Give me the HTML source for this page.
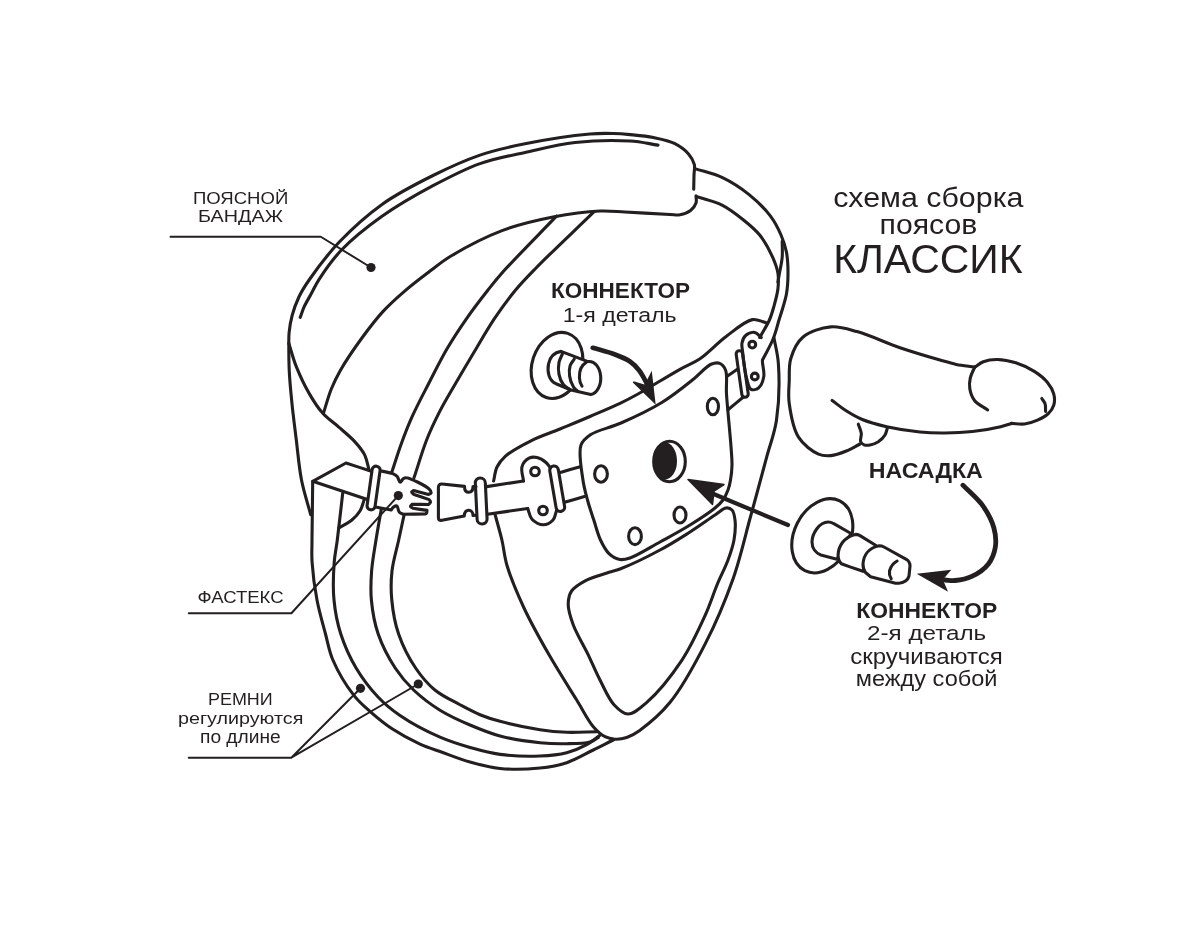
<!DOCTYPE html>
<html><head><meta charset="utf-8"><style>
html,body{margin:0;padding:0;background:#fff;width:1200px;height:941px;overflow:hidden}
svg{display:block;will-change:transform}
text{font-family:"Liberation Sans",sans-serif;fill:#231f20}
</style></head><body>
<svg width="1200" height="941" viewBox="0 0 1200 941">
<rect width="1200" height="941" fill="#fff"/>
<g fill="none" stroke="#231f20" stroke-width="3.1" stroke-linecap="round" stroke-linejoin="round">
<path d="M310.7,514.7 C307.6,503.1 303.9,492.1 301.5,480.0 C299.0,467.2 297.9,453.0 296.3,440.0 C294.8,427.6 293.2,415.5 292.0,403.8 C290.9,392.8 289.8,382.2 289.3,371.9 C288.8,362.3 288.8,351.2 288.8,344.0 C288.8,339.4 288.7,336.8 289.1,332.7 C289.6,327.6 290.6,321.4 292.1,315.7 C293.7,309.5 296.1,303.0 298.9,297.0 C301.7,291.1 304.5,286.6 309.1,280.0 C316.3,269.6 327.9,254.0 339.5,241.8 C352.0,228.7 366.6,215.4 382.0,204.4 C397.7,193.2 416.1,183.9 433.0,175.5 C448.8,167.6 464.3,160.5 480.0,155.1 C495.0,150.0 508.5,147.1 525.0,143.8 C544.6,139.8 573.7,135.4 590.0,134.0 C599.7,133.2 606.2,133.3 613.3,133.5 C619.3,133.6 624.0,134.0 630.0,134.6 C637.2,135.3 645.9,136.0 653.4,137.5 C660.6,139.0 668.3,140.4 674.4,143.4 C679.8,146.1 685.1,150.0 688.5,153.9 C691.3,157.1 693.4,160.8 694.3,164.4 C695.1,167.8 694.1,171.2 694.0,175.0 C693.9,179.4 693.8,184.5 693.7,189.3" />
<path d="M300.2,317.4 C301.5,314.0 302.4,310.7 304.0,307.2 C305.8,303.1 308.4,298.9 310.8,294.5 C313.4,289.7 315.4,285.0 319.1,279.3 C324.5,271.0 332.1,259.8 341.2,250.3 C352.2,238.8 367.2,226.8 382.0,216.3 C397.7,205.2 416.1,194.7 433.0,185.7 C448.8,177.3 464.2,169.2 480.0,163.6 C494.9,158.3 509.6,155.9 525.0,152.5 C541.2,148.9 557.9,144.4 575.0,142.5 C592.8,140.5 614.8,140.1 630.0,141.0 C640.9,141.6 648.7,143.7 658.0,145.1" />
<path d="M696.0,195.7 C696.0,198.2 696.8,200.7 696.0,203.1 C695.1,205.7 693.1,208.7 690.6,210.6 C687.9,212.7 683.5,214.2 680.0,214.8 C676.7,215.4 674.5,214.7 670.0,214.5 C660.4,214.1 637.8,212.6 625.0,212.0 C615.5,211.5 609.6,210.6 600.0,211.0 C586.8,211.6 568.9,213.9 553.0,217.0 C536.2,220.3 518.7,224.3 502.0,230.6 C484.7,237.2 464.1,248.1 451.0,256.0 C442.2,261.3 437.3,265.6 430.0,271.1 C421.8,277.3 412.4,284.4 404.4,291.3 C396.8,297.8 389.9,304.0 383.1,311.4 C375.7,319.4 368.8,328.6 361.9,338.0 C354.6,348.0 346.0,360.6 340.6,370.0 C336.6,377.0 334.1,382.2 331.3,389.0 C328.3,396.5 326.0,405.2 323.4,413.3" />
<path d="M288.8,343.2 C291.3,351.0 293.1,358.7 296.3,366.6 C299.8,375.3 304.3,385.0 309.0,393.1 C313.2,400.5 317.6,407.5 322.8,413.3 C327.6,418.7 333.6,422.5 338.8,427.1 C343.9,431.6 349.4,435.9 353.8,440.6 C357.9,445.0 361.8,449.4 364.4,454.4 C366.9,459.3 367.6,465.1 369.2,470.4" />
<path d="M364.4,499.0 C363.0,502.9 362.2,507.3 360.1,510.8 C358.0,514.4 355.0,517.5 351.6,520.3 C348.0,523.3 343.1,525.3 338.9,527.8" />
<path d="M371.3,471.3 C362.9,468.5 354.4,465.8 346.0,463.0 C334.9,469.1 323.8,475.2 312.7,481.3 C330.7,487.3 348.7,493.3 366.7,499.3" />
<path d="M556.5,216.2 C538.3,235.1 514.1,259.4 502.0,273.0 C495.6,280.2 493.1,283.5 488.0,290.0 C481.3,298.5 472.7,309.7 465.7,319.8 C458.9,329.6 452.5,339.4 446.6,349.5 C440.8,359.5 436.0,369.3 430.5,380.0 C424.5,391.8 417.0,405.7 411.9,417.2 C407.6,426.7 404.6,434.7 401.3,443.8 C397.9,453.1 394.9,462.9 391.7,472.5" />
<path d="M593.9,211.9 C574.6,230.6 550.2,253.4 536.0,268.0 C527.3,276.9 522.2,282.0 515.6,290.0 C508.4,298.7 501.3,308.5 494.4,318.7 C487.1,329.7 479.6,342.9 473.1,353.8 C467.5,363.2 462.9,370.8 457.6,380.0 C451.8,390.1 444.8,401.5 439.5,411.9 C434.7,421.3 430.8,429.4 426.8,439.5 C422.2,451.1 418.3,465.0 414.0,477.8" />
<path d="M312.7,481.3 C312.5,500.9 312.1,525.0 312.0,540.0 C312.0,549.3 311.5,554.1 312.1,562.5 C312.8,573.4 314.7,587.9 317.0,600.0 C319.2,611.7 322.7,623.4 325.5,634.0 C328.0,643.3 329.0,650.9 332.9,660.0 C337.7,671.2 346.7,686.2 353.9,695.4 C359.2,702.3 364.2,706.3 370.2,711.6 C376.8,717.4 384.1,723.5 392.1,728.8 C400.6,734.4 411.3,740.1 420.0,744.1 C427.1,747.3 432.6,748.9 440.0,751.5 C449.0,754.7 459.9,759.2 470.0,762.0 C479.9,764.8 489.2,767.4 500.0,768.5 C512.3,769.7 528.1,769.2 540.0,768.0 C549.8,767.0 558.0,765.6 566.7,762.7 C575.8,759.7 585.1,754.0 593.3,750.0 C600.5,746.5 606.6,743.3 613.3,740.0" />
<path d="M342.7,493.3 C340.9,508.9 338.9,527.3 337.3,540.0 C336.2,548.9 334.8,554.0 334.2,562.5 C333.4,573.4 332.8,587.9 334.0,600.0 C335.1,611.7 337.2,622.9 340.8,634.0 C344.5,645.5 349.8,657.4 356.1,668.0 C362.3,678.4 370.2,688.8 378.0,697.0 C384.9,704.3 391.2,709.5 400.0,715.5 C411.0,723.0 427.4,731.7 440.0,737.2 C450.5,741.8 459.9,744.6 470.0,747.5 C479.9,750.3 489.2,753.0 500.0,754.4 C512.3,756.0 528.0,756.5 540.0,756.0 C549.8,755.6 558.6,754.8 566.7,752.7 C574.0,750.8 580.9,747.9 586.7,744.7 C591.8,741.9 595.6,738.4 600.0,735.3" />
<path d="M381.3,509.3 C379.5,519.5 377.6,529.7 376.0,540.0 C374.4,550.3 372.4,560.8 371.6,571.0 C370.9,580.8 370.4,590.0 371.4,600.0 C372.4,610.9 374.4,622.9 378.2,634.0 C382.2,645.6 388.8,658.2 395.2,668.0 C400.8,676.5 406.5,683.2 413.6,690.0 C421.3,697.3 430.6,704.4 440.0,710.2 C449.4,716.0 459.9,720.7 470.0,725.0 C479.9,729.2 489.1,733.1 500.0,736.0 C512.2,739.2 528.0,741.5 540.0,742.7 C549.8,743.7 558.1,743.9 566.7,743.7 C574.7,743.6 584.3,743.7 590.0,742.0 C593.6,740.9 595.5,739.0 598.3,737.5" />
<path d="M404.0,515.3 C402.2,523.5 400.6,531.3 398.7,540.0 C396.6,549.7 393.1,560.8 392.0,571.0 C390.9,580.8 390.8,590.0 391.8,600.0 C392.8,610.9 394.8,622.9 398.6,634.0 C402.6,645.6 409.0,658.3 415.6,668.0 C421.4,676.6 427.5,683.9 434.9,690.0 C442.2,696.0 451.6,700.2 459.5,704.5 C466.6,708.3 473.1,711.9 480.0,714.7 C486.6,717.4 492.1,719.2 500.0,721.3 C511.0,724.3 528.0,727.9 540.0,729.7 C549.8,731.2 557.5,731.9 566.7,732.3 C576.4,732.7 586.7,731.9 596.7,731.7" />
<path d="M694.9,168.6 C704.1,171.6 713.6,173.4 722.5,177.6 C731.7,182.0 741.1,188.1 749.1,194.6 C756.9,200.9 764.8,208.6 770.3,215.9 C775.0,222.1 778.3,228.7 781.0,235.0 C783.5,240.7 785.2,245.9 786.4,251.9 C787.7,258.5 788.0,266.0 788.0,273.1 C788.0,280.2 787.7,287.0 786.4,294.3 C784.9,302.5 781.4,312.1 779.0,320.0 C777.0,326.8 775.7,332.6 773.1,339.0 C770.3,345.9 766.0,353.0 762.5,360.0" />
<path d="M697.0,196.8 C705.5,199.6 714.6,201.3 722.5,205.3 C730.2,209.2 737.4,215.0 743.8,220.2 C749.7,224.9 755.0,229.2 759.7,235.0 C764.8,241.3 769.5,250.3 772.6,257.2 C775.1,262.8 777.0,267.7 777.9,273.1 C778.7,278.3 778.5,283.6 777.9,289.0 C777.2,294.9 775.2,301.6 773.7,307.1 C772.4,311.8 771.4,315.5 769.4,320.0 C767.0,325.5 762.9,331.7 759.7,337.5" />
<path d="M782.2,241.2 C782.2,246.5 782.6,251.9 782.2,257.2 C781.8,262.5 780.3,268.5 779.5,273.0 C778.9,276.4 778.4,279.0 777.9,282.0" />
<path d="M495.2,515.0 C497.4,523.3 499.9,531.6 501.9,540.0 C503.9,548.4 504.2,556.1 507.0,565.5 C510.7,578.0 517.3,593.6 524.0,608.0 C531.3,623.6 540.6,640.1 549.5,655.6 C558.2,670.8 568.7,687.1 576.7,700.0 C582.9,710.0 587.7,720.2 593.3,726.7 C597.2,731.2 601.0,734.6 605.0,736.7 C608.3,738.4 611.5,739.0 615.0,739.2 C618.7,739.4 622.8,738.8 626.7,737.5 C631.1,736.0 634.7,734.0 639.7,730.4 C648.0,724.4 660.4,714.2 670.1,702.3 C682.5,687.0 694.8,664.3 705.2,643.9 C715.9,623.0 725.6,599.8 733.2,578.4 C740.2,558.6 745.6,534.4 749.6,520.0 C751.9,511.6 752.9,507.9 755.1,500.0 C758.2,488.5 762.9,471.1 766.6,457.4 C770.0,444.5 774.5,433.9 776.5,420.0 C779.0,403.3 779.4,378.9 778.4,363.8 C777.7,353.5 775.5,346.6 774.0,338.0" />
<path d="M726.0,508.0 C728.2,507.7 730.5,508.5 732.0,510.0 C733.9,511.9 734.5,516.0 735.0,520.0 C735.7,525.5 735.1,533.4 734.0,540.0 C732.8,546.7 730.6,553.0 728.0,560.0 C725.1,568.0 720.6,576.2 717.0,585.0 C713.1,594.5 710.2,604.1 705.3,615.0 C699.1,628.7 691.3,646.0 681.8,660.3 C671.9,675.1 657.4,693.1 646.8,702.3 C640.1,708.1 633.8,714.1 628.0,714.0 C623.0,713.9 618.2,709.2 614.0,704.7 C608.5,698.8 604.3,688.3 600.0,680.0 C595.8,671.9 592.7,664.2 588.6,655.6 C583.9,645.9 576.8,634.3 573.3,625.0 C570.6,617.7 568.2,610.7 568.2,604.6 C568.2,599.6 569.0,594.8 571.6,591.0 C574.4,586.8 579.8,583.7 585.2,580.8 C591.8,577.2 602.6,574.4 609.0,572.3 C613.3,570.9 615.3,570.8 620.0,569.0 C629.3,565.4 647.8,556.6 660.0,550.0 C670.9,544.2 680.5,538.0 690.0,532.0 C698.8,526.4 708.3,519.4 715.0,515.0 C719.4,512.1 722.8,508.4 726.0,508.0 Z" />
<path d="M581.0,445.0 C582.8,440.1 585.9,437.9 590.4,434.8 C597.3,430.1 610.2,427.8 621.0,423.0 C633.8,417.4 649.3,410.2 661.8,402.5 C673.5,395.3 685.1,385.8 694.0,378.7 C700.7,373.4 706.0,366.4 711.0,364.3 C714.2,363.0 717.3,362.4 719.7,363.4 C722.2,364.4 724.3,366.9 725.6,370.2 C727.7,375.5 725.9,384.5 726.5,394.0 C727.4,408.3 730.2,434.8 731.1,447.8 C731.6,455.1 732.1,459.5 732.0,465.0 C731.9,470.2 731.3,475.5 730.5,480.0 C729.9,483.7 729.2,486.7 728.0,490.0 C726.7,493.4 725.2,497.0 723.0,500.0 C720.8,503.0 718.6,505.0 715.0,508.0 C709.1,512.9 698.8,519.5 690.0,525.0 C680.6,530.9 670.0,536.5 660.0,542.0 C650.0,547.5 637.5,555.5 630.0,558.0 C625.9,559.3 623.3,560.1 620.0,559.5 C616.3,558.9 612.1,556.5 609.0,553.6 C605.5,550.3 602.9,545.1 600.5,540.0 C597.7,534.1 596.0,526.7 593.8,520.0 C591.6,513.3 589.3,506.8 587.5,500.0 C585.6,493.1 583.8,486.9 582.8,479.0 C581.4,469.1 578.2,452.7 581.0,445.0 Z" />
<path d="M493.6,481.0 C494.7,476.3 495.0,471.2 497.0,467.0 C499.0,462.9 501.5,459.7 505.5,456.1 C511.4,450.9 522.0,445.3 531.0,440.8 C540.2,436.2 550.3,433.0 560.0,429.0 C569.9,424.9 580.0,420.8 590.0,416.5 C600.0,412.2 611.3,407.5 620.0,403.4 C626.8,400.1 630.8,398.0 638.0,394.0 C649.1,387.8 668.5,375.7 680.0,369.3 C687.8,364.9 693.2,363.3 700.0,358.7 C708.3,353.1 716.7,343.6 725.5,337.0 C734.1,330.6 744.6,321.0 752.3,319.6 C757.3,318.7 761.2,321.6 765.7,322.6" />
<rect x="-4" y="-22" width="8" height="44" rx="4" transform="translate(373.6,488) rotate(8)"/>
<path d="M381.2,471.0 C385.0,471.9 389.8,472.4 392.7,473.6 C394.6,474.4 396.0,475.2 397.2,476.6 C398.5,478.1 399.1,482.2 400.2,482.3 C401.1,482.4 402.1,479.6 403.2,478.8 C404.1,478.2 404.7,477.6 406.1,477.7 C410.2,477.9 425.9,485.8 429.2,489.2 C430.6,490.6 431.3,492.3 431.0,493.2 C430.7,493.9 429.3,494.0 428.5,494.4 C423.5,493.1 418.6,491.8 413.6,490.5 C413.0,491.0 411.7,491.4 411.7,492.0 C411.6,492.7 413.2,493.7 414.0,494.5 C419.1,496.2 424.1,497.9 429.2,499.6 C429.6,500.4 430.6,501.2 430.5,502.0 C430.4,502.9 429.2,503.7 428.5,504.5 C423.0,504.4 417.5,504.4 412.0,504.3 C411.5,505.0 410.4,505.9 410.5,506.5 C410.6,507.2 412.2,507.7 413.0,508.3 C417.7,509.0 422.3,509.7 427.0,510.4 C426.8,511.3 426.9,512.6 426.5,513.2 C426.3,513.6 425.8,513.7 425.5,514.0 C418.1,514.1 410.6,514.1 403.2,514.2 C401.9,513.6 400.4,513.4 399.4,512.3 C398.1,510.9 398.1,506.6 396.8,506.0 C395.9,505.6 394.4,506.5 393.5,507.1 C392.5,507.8 392.0,509.0 391.2,510.0 C386.0,509.0 380.7,508.0 375.5,507.0" />
<circle cx="398.3" cy="495.6" r="4.6" fill="#231f20" stroke="none"/>
<path d="M476,486.6 L473,486.6 C473,490.5 471,492.3 468.8,492.3 C466.5,492.3 464.5,490.5 464.5,486.4 L442,484 Q438.4,483.8 438.4,487.5 L438.4,517.5 Q438.4,521 442,520.3 L464.2,516 C464.5,512.3 466.5,510.3 468.8,510.3 C471,510.3 473,512.3 473,515.5 L476,515.3"/>
<rect x="-5" y="-23" width="10" height="46" rx="5" transform="translate(481.2,501) rotate(-2.8)"/>
<path d="M486.7,486.6 C499.0,484.7 511.2,482.9 523.5,481.0" />
<path d="M487.4,514.2 C500.8,512.3 514.3,510.4 527.7,508.5" />
<path d="M523.5,481.0 C523.0,476.2 520.8,470.7 522.0,466.7 C523.0,463.2 526.2,459.7 529.0,458.2 C531.4,457.0 534.3,456.9 537.0,457.5 C540.0,458.1 543.7,460.5 546.0,462.5 C547.9,464.1 548.9,466.2 550.4,468.0" />
<path d="M527.7,508.5 C529.1,512.1 529.5,516.5 532.0,519.2 C534.6,522.0 539.7,524.8 543.3,524.8 C546.7,524.8 550.8,522.4 553.0,520.0 C555.1,517.7 555.3,513.8 556.5,510.7" />
<circle cx="535" cy="471.5" r="4.3"/><circle cx="543" cy="510.5" r="4.3"/>
<rect x="-4.3" y="-23" width="8.6" height="46" rx="4.3" transform="translate(557.2,488.7) rotate(-9.7)"/>
<path d="M560.3,472.4 C566.9,470.5 573.6,468.6 580.2,466.7" />
<path d="M564.6,502.2 C571.2,500.3 577.8,498.4 584.4,496.5" />
<path d="M761.2,337.5 C759.1,335.8 757.2,333.0 754.8,332.5 C752.2,332.0 748.0,333.4 745.9,335.2 C743.8,336.9 742.5,340.3 742.0,343.0 C741.5,345.6 742.1,347.5 742.5,351.0 C743.2,357.7 745.0,373.1 747.0,380.0 C748.2,384.1 748.8,388.1 751.0,389.3 C752.9,390.3 756.5,389.5 758.5,388.0 C761.1,386.0 763.1,380.6 763.8,376.5 C764.5,372.2 762.6,365.3 762.5,362.5 C762.4,361.3 762.5,360.8 762.5,360.0" />
<circle cx="752.3" cy="344.6" r="3.4"/><circle cx="754.8" cy="376.5" r="3.4"/>
<rect x="-3.2" y="-23.5" width="6.4" height="47" rx="3.2" transform="translate(742.2,374) rotate(-8)"/>
<path d="M726.8,376.5 C730.2,374.2 733.6,371.8 737.0,369.5" />
<path d="M728.0,409.7 C733.1,405.5 738.3,401.2 743.4,397.0" />
<ellipse cx="712.9" cy="406.5" rx="5.6" ry="8.2"/>
<ellipse cx="601" cy="474" rx="6.4" ry="8.2"/>
<ellipse cx="635" cy="536.2" rx="6.4" ry="8.4"/>
<ellipse cx="680" cy="515" rx="6" ry="8"/>
<ellipse cx="669.5" cy="461.5" rx="15.8" ry="20.2"/>
<ellipse cx="665" cy="461" rx="12" ry="18.5" fill="#231f20" stroke="none"/>
<path d="M713.0,493.8 C738.0,504.2 763.0,514.6 788.0,525.0" stroke-width="4.2"/>
<path d="M688,479.5 L724,484.5 L714,491 L712.5,504.5 Z" fill="#231f20" stroke="#231f20" stroke-width="1.5"/>
<path d="M170.5,236.75 L320.75,236.75 L371,267.5" stroke-width="2"/>
<circle cx="371" cy="267.5" r="4.6" fill="#231f20" stroke="none"/>
<path d="M188.75,613.25 L291.4,613.25 L398.3,495.6" stroke-width="2"/>
<path d="M188.75,757.7 L291.3,757.7 L360.5,688.3 M291.3,757.7 L418.3,684" stroke-width="2"/>
<circle cx="360.5" cy="688.3" r="4.6" fill="#231f20" stroke="none"/><circle cx="418.3" cy="684" r="4.6" fill="#231f20" stroke="none"/>
<ellipse cx="557" cy="365.4" rx="24.8" ry="33.8" transform="rotate(18.5 557 365.4)" fill="#fff"/>
<path d="M561,351.4 L588,361.6 A11.2,16.4 0 0 1 590.8,394.6 L571,390 L556,383.7 C549,380.5 547,372 548.5,364 C550,357 554,352.5 561,351.4 Z" fill="#fff"/>
<path d="M562.4,353.9 C561.3,356.7 559.6,359.3 559.0,362.4 C558.3,366.0 558.2,370.6 559.0,374.3 C559.7,377.9 561.3,381.9 563.3,384.5 C565.1,386.8 567.8,387.9 570.0,389.6" />
<path d="M574.3,359.0 C572.9,361.3 570.9,363.2 570.1,365.8 C569.2,368.8 569.1,372.6 569.6,376.0 C570.1,379.7 571.8,384.3 573.5,387.0 C574.8,389.0 576.5,390.0 578.0,391.5" />
<path d="M586.2,362.4 C581,365.5 579.2,372 579.4,377.7 C579.6,381.5 580.5,384 582,386.2"/>
<path d="M592.7,347.8 C600.1,350.0 608.4,352.0 615.0,354.5 C620.6,356.6 625.8,358.6 630.0,361.5 C633.8,364.1 636.7,367.2 639.4,370.7 C642.2,374.3 644.9,379.8 646.5,383.0 C647.5,385.0 647.8,386.3 648.5,388.0" stroke-width="4.7"/>
<path d="M654.7,402.7 L633.3,382 L645,385.5 L651.3,373.3 Z" fill="#231f20" stroke="#231f20" stroke-width="1.5" stroke-linejoin="miter"/>
<path d="M860.1,444.0 C855.5,446.3 851.1,449.1 846.3,451.0 C841.4,453.0 835.7,455.2 830.8,455.6 C826.5,456.0 822.8,456.0 818.5,454.1 C812.2,451.4 803.3,444.7 798.5,437.1 C792.9,428.3 790.6,413.3 789.2,403.2 C788.1,395.3 788.9,388.9 789.2,381.6 C789.5,374.0 788.6,365.8 790.8,358.5 C793.1,350.9 796.9,342.2 803.1,337.0 C809.8,331.3 821.6,327.7 830.8,326.9 C839.6,326.1 847.3,328.9 857.0,331.6 C869.7,335.1 885.9,342.9 900.0,347.7 C913.5,352.3 929.6,357.0 940.0,360.0 C946.6,361.9 950.7,363.2 956.3,364.4 C962.2,365.6 968.6,366.2 974.7,367.1" />
<path d="M974.7,367.1 C977.6,365.3 979.9,363.0 983.3,361.7 C987.3,360.2 992.4,359.4 997.4,359.5 C1003.1,359.6 1009.8,360.9 1015.8,362.8 C1022.1,364.8 1028.9,367.9 1034.3,371.4 C1039.2,374.5 1044.0,378.2 1047.3,382.3 C1050.3,385.9 1052.8,390.2 1053.8,394.2 C1054.7,397.8 1054.8,401.7 1053.8,405.0 C1052.9,408.2 1050.8,411.2 1048.3,413.7 C1045.5,416.4 1041.4,418.5 1037.5,420.2 C1033.5,422.0 1028.9,423.5 1024.5,424.0 C1020.2,424.5 1015.8,423.6 1011.5,423.4" />
<path d="M974.7,367.1 C973.2,370.7 971.1,374.2 970.3,377.9 C969.5,381.5 969.2,385.2 969.8,388.8 C970.5,392.8 972.0,397.3 974.7,400.7 C977.7,404.5 983.4,406.8 987.7,409.9" />
<path d="M1041.8,398.5 C1042.9,400.3 1044.5,401.9 1045.1,403.9 C1045.8,406.1 1045.4,409.0 1045.6,411.5" />
<path d="M832.1,400.4 C836.4,403.6 840.3,407.0 845.0,410.0 C850.1,413.3 855.4,416.6 861.7,419.2 C869.1,422.3 877.7,424.6 886.7,426.7 C896.9,429.0 909.7,431.0 920.0,432.0 C928.9,432.9 936.5,433.1 945.0,433.0 C953.9,432.9 963.3,432.5 972.5,431.5 C981.9,430.5 993.6,428.4 1000.7,426.7 C1005.2,425.6 1007.9,424.5 1011.5,423.4" />
<path d="M858.3,424.2 C859.3,427.2 860.9,430.3 861.3,433.3 C861.6,436.1 859.9,439.5 860.6,441.5 C861.2,443.0 862.6,444.2 864.0,444.8 C865.6,445.5 867.9,445.4 870.0,445.0 C872.6,444.5 875.8,443.3 878.3,441.7 C880.8,440.0 883.5,437.5 885.0,435.0 C886.4,432.7 886.7,430.0 887.5,427.5" />
<ellipse cx="822.3" cy="535.8" rx="28" ry="39" transform="rotate(26.6 822.3 535.8)" fill="#fff"/>
<path d="M837,559.3 L820.8,555 C815.5,553 812,548 812,542 C812,534 819,522 828.3,522 C830.5,522 832,522.7 833.8,523.6 L851,533.5 Z" fill="#fff"/>
<path d="M863,571.3 L850,566.9 L841.3,563.7 C838.5,561 838,558 838.1,555 C838.5,546 844,537 855.4,534.4 C857,534.4 858.5,534.8 860,535.6 L876,545.5 Z" fill="#fff"/>
<path d="M870.6,576.7 L865.5,572.5 C863.5,570 863,567 863,564 C863.5,556 868,548 879.3,545.8 C881,545.8 882.5,546.2 884,547 L906.3,559.3 C909,561 910,563.5 910,566 L909,576 C908,580 904,583.2 899,583.2 L895.5,583.2 Z" fill="#fff"/>
<path d="M897.1,561 C893.5,563 890.5,567 889.5,571 C889,574 889.8,576.5 891.2,578.8"/>
<path d="M962.9,485.2 C969.6,492.1 977.6,498.5 982.9,505.9 C987.8,512.8 991.9,520.7 993.9,528.0 C995.7,534.5 996.3,541.3 995.3,547.4 C994.3,553.2 992.1,559.2 988.4,563.9 C984.5,569.0 977.6,573.6 971.8,576.4 C966.5,578.9 960.1,580.0 955.2,580.5 C951.4,580.9 948.4,580.2 945.0,580.0" stroke-width="4.8"/>
<path d="M919,574.2 L949.5,570.8 L942,579.5 L946.5,590 Z" fill="#231f20" stroke="#231f20" stroke-width="1.5" stroke-linejoin="miter"/>
</g>
<text x="193" y="204" font-size="17.4" style="" textLength="95.25" lengthAdjust="spacingAndGlyphs">ПОЯСНОЙ</text>
<text x="198" y="222" font-size="17.4" style="" textLength="85" lengthAdjust="spacingAndGlyphs">БАНДАЖ</text>
<text x="551" y="298.4" font-size="22.2" style="font-weight:bold;" textLength="139" lengthAdjust="spacingAndGlyphs">КОННЕКТОР</text>
<text x="562.7" y="322" font-size="20.5" style="" textLength="114.0" lengthAdjust="spacingAndGlyphs">1-я деталь</text>
<text x="833.2" y="207.3" font-size="27.8" style="" textLength="190.29999999999995" lengthAdjust="spacingAndGlyphs">схема сборка</text>
<text x="879.6" y="233.7" font-size="27.5" style="" textLength="97.69999999999993" lengthAdjust="spacingAndGlyphs">поясов</text>
<text x="833.2" y="272.6" font-size="40.7" style="" textLength="189.39999999999998" lengthAdjust="spacingAndGlyphs">КЛАССИК</text>
<text x="868.7" y="478" font-size="22.8" style="font-weight:bold;" textLength="114.19999999999993" lengthAdjust="spacingAndGlyphs">НАСАДКА</text>
<text x="856.2" y="617.75" font-size="21.8" style="font-weight:bold;" textLength="141.0" lengthAdjust="spacingAndGlyphs">КОННЕКТОР</text>
<text x="867" y="640.25" font-size="20.5" style="" textLength="119.25" lengthAdjust="spacingAndGlyphs">2-я деталь</text>
<text x="850.2" y="664" font-size="21.5" style="" textLength="152.54999999999995" lengthAdjust="spacingAndGlyphs">скручиваются</text>
<text x="855.75" y="686" font-size="21.5" style="" textLength="141.75" lengthAdjust="spacingAndGlyphs">между собой</text>
<text x="197.5" y="603.3" font-size="17.4" style="" textLength="86.10000000000002" lengthAdjust="spacingAndGlyphs">ФАСТЕКС</text>
<text x="208" y="705.3" font-size="17.4" style="" textLength="64.69999999999999" lengthAdjust="spacingAndGlyphs">РЕМНИ</text>
<text x="178" y="724" font-size="17" style="" textLength="125.30000000000001" lengthAdjust="spacingAndGlyphs">регулируются</text>
<text x="200" y="742.7" font-size="17.5" style="" textLength="80.69999999999999" lengthAdjust="spacingAndGlyphs">по длине</text>
</svg>
</body></html>
